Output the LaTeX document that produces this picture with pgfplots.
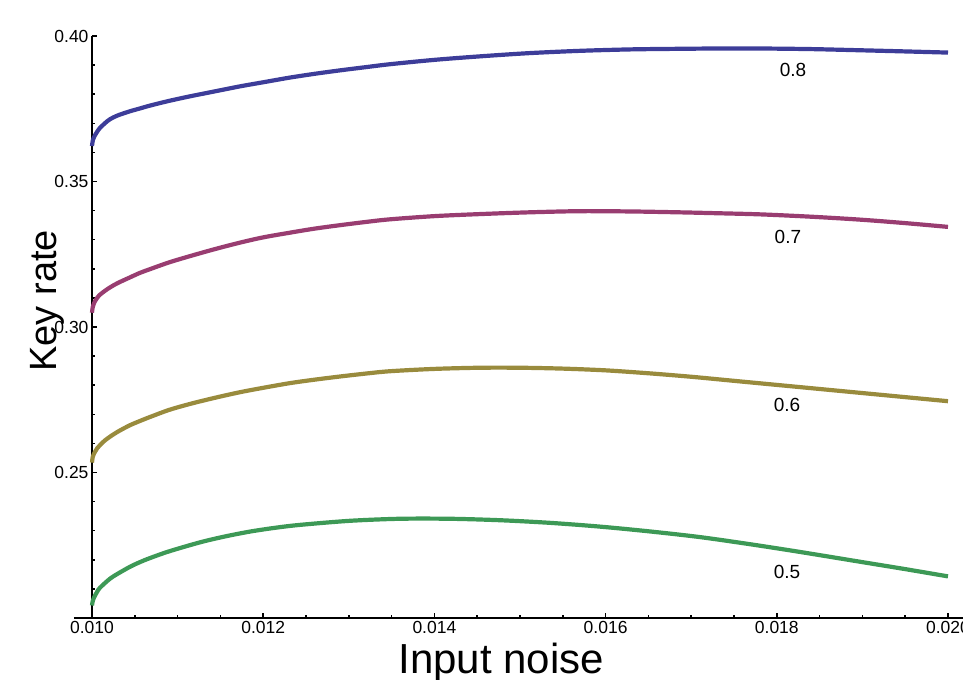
\documentclass[border=0pt]{standalone}
\usepackage{fontspec}
\setmainfont{Liberation Sans}
\usepackage{pgfplots}
\pgfplotsset{compat=1.18}

\definecolor{ceight}{rgb}{0.24,0.24,0.60}
\definecolor{cseven}{rgb}{0.60,0.24,0.442}
\definecolor{csix}{rgb}{0.60,0.547,0.24}
\definecolor{cfive}{rgb}{0.24,0.60,0.337}

% key rate vs input noise, one curve per parameter value
\pgfplotstableread{
x y
0.010000 0.3622
0.010010 0.3642
0.010035 0.3659
0.010060 0.3671
0.010093 0.3684
0.010150 0.3700
0.010210 0.3714
0.010300 0.3727
0.010440 0.3741
0.010560 0.3751
0.010680 0.3761
0.010900 0.3777
0.011150 0.3793
0.011440 0.3810
0.011730 0.3827
0.012000 0.3841
0.012310 0.3857
0.012600 0.3870
0.012900 0.3882
0.013200 0.3893
0.013480 0.3903
0.014000 0.3918
0.014530 0.3930
0.015100 0.3941
0.015700 0.3949
0.016300 0.3954
0.016870 0.3956
0.017300 0.3957
0.017810 0.3957
0.018400 0.3955
0.018970 0.3951
0.019500 0.3947
0.020000 0.3943
}\eight
\pgfplotstableread{
x y
0.010000 0.3049
0.010010 0.3070
0.010035 0.3089
0.010060 0.3100
0.010093 0.3111
0.010150 0.3124
0.010210 0.3136
0.010300 0.3151
0.010440 0.3170
0.010560 0.3186
0.010680 0.3199
0.010900 0.3222
0.011150 0.3244
0.011440 0.3268
0.011730 0.3290
0.012000 0.3308
0.012310 0.3324
0.012600 0.3338
0.012900 0.3350
0.013200 0.3361
0.013480 0.3370
0.014000 0.3381
0.014530 0.3388
0.015100 0.3394
0.015700 0.3398
0.016300 0.3397
0.016870 0.3394
0.017300 0.3391
0.017810 0.3387
0.018400 0.3379
0.018970 0.3369
0.019500 0.3357
0.020000 0.3344
}\seven
\pgfplotstableread{
x y
0.010000 0.2534
0.010010 0.2555
0.010035 0.2571
0.010060 0.2583
0.010093 0.2594
0.010150 0.2610
0.010210 0.2623
0.010300 0.2640
0.010440 0.2662
0.010560 0.2677
0.010680 0.2691
0.010900 0.2715
0.011150 0.2736
0.011440 0.2757
0.011730 0.2776
0.012000 0.2791
0.012310 0.2807
0.012600 0.2819
0.012900 0.2830
0.013200 0.2840
0.013480 0.2848
0.014000 0.2856
0.014530 0.2860
0.015000 0.2860
0.015500 0.2857
0.016000 0.2851
0.016500 0.2841
0.017000 0.2829
0.017500 0.2815
0.018000 0.2801
0.018500 0.2787
0.019000 0.2773
0.019500 0.2759
0.020000 0.2745
}\six
\pgfplotstableread{
x y
0.010000 0.2043
0.010010 0.2060
0.010035 0.2077
0.010060 0.2090
0.010093 0.2104
0.010210 0.2135
0.010300 0.2152
0.010444 0.2176
0.010560 0.2192
0.010678 0.2206
0.010900 0.2229
0.011262 0.2260
0.011550 0.2280
0.011846 0.2297
0.012140 0.2310
0.012430 0.2320
0.013014 0.2334
0.013598 0.2341
0.014182 0.2341
0.014766 0.2336
0.015350 0.2327
0.015935 0.2314
0.016500 0.2298
0.017103 0.2278
0.017700 0.2253
0.018271 0.2227
0.019000 0.2192
0.019500 0.2168
0.020000 0.2143
}\five

\begin{document}
\begin{tikzpicture}
\begin{axis}[
    scale only axis,
    width=856bp, height=582bp,
    xmin=0.010, xmax=0.020, ymin=0.20, ymax=0.40,
    axis lines=left,
    axis line style={-, line width=1.8bp},
    xtick={0.010,0.012,0.014,0.016,0.018,0.020},
    xticklabels={0.010,0.012,0.014,0.016,0.018,0.020},
    ytick={0.20,0.25,0.30,0.35,0.40},
    yticklabels={,0.25,0.30,0.35,0.40},
    minor x tick num=3, minor y tick num=4,
    scaled ticks=false,
    tick align=inside,
    major tick length=5bp, minor tick length=3bp,
    every tick/.style={black, line width=1.5bp},
    tick label style={font=\fontsize{17.5bp}{21bp}\selectfont},
    /pgf/number format/assume math mode=true,
    xlabel={Input noise}, ylabel={Key rate},
    every axis x label/.style={at={(rel axis cs:0.478,0)}, anchor=base, yshift=-55bp,
                               font=\fontsize{42bp}{48bp}\selectfont},
    every axis y label/.style={at={(rel axis cs:0,0.545)}, xshift=-45bp, rotate=90, anchor=center,
                               font=\fontsize{38bp}{44bp}\selectfont},
    clip=false,
    every axis plot/.append style={line width=4.2bp, smooth},
]
\addplot[ceight] table {\eight};
\addplot[cseven] table {\seven};
\addplot[csix] table {\six};
\addplot[cfive] table {\five};

\node[font=\fontsize{19bp}{22bp}\selectfont] at (axis cs:0.01819,0.3882) {0.8};
\node[font=\fontsize{19bp}{22bp}\selectfont] at (axis cs:0.01813,0.3308) {0.7};
\node[font=\fontsize{19bp}{22bp}\selectfont] at (axis cs:0.01812,0.2732) {0.6};
\node[font=\fontsize{19bp}{22bp}\selectfont] at (axis cs:0.01812,0.2159) {0.5};

\coordinate (o) at (rel axis cs:0,0);
\draw[line width=1.8bp] ([xshift=-18bp]rel axis cs:0,0) -- ([xshift=30bp]rel axis cs:1,0);
\end{axis}
\pgfresetboundingbox
\useasboundingbox ([xshift=-92bp,yshift=-62bp]o) rectangle ([xshift=871bp,yshift=618bp]o);
\end{tikzpicture}
\end{document}
